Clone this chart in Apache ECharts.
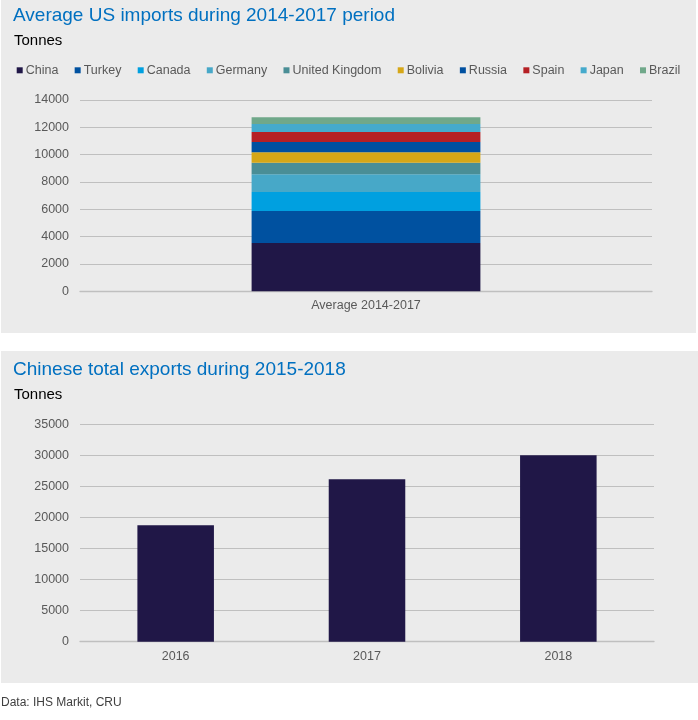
<!DOCTYPE html>
<html>
<head>
<meta charset="utf-8">
<script src="https://cdn.jsdelivr.net/npm/echarts@6/dist/echarts.min.js"></script>
<style>
html,body{margin:0;padding:0;background:#fff;}
#chart{width:698px;height:720px;}
</style>
</head>
<body>
<div id="chart"></div>
<script>
// ---- data ----
const importCategories = ['Average 2014-2017'];
const importCountries = ['China', 'Turkey', 'Canada', 'Germany', 'United Kingdom', 'Bolivia', 'Russia', 'Spain', 'Japan', 'Brazil'];
const importValues = [3530, 2340, 1390, 1300, 850, 760, 755, 730, 585, 490];
const exportYears = ['2016', '2017', '2018'];
const exportValues = [18750, 26150, 30000];

// ---- styles ----
const countryColors = ['#201747', '#0051A0', '#00A0E0', '#47A8C8', '#4A8E96', '#D6A717', '#0050A0', '#B52025', '#45AACC', '#70A88A'];
const FONT = "'Liberation Sans', Arial, sans-serif";
const gridColor = '#BFBFBF';
const labelColor = '#595959';

const chart = echarts.init(document.getElementById('chart'), null, {renderer: 'canvas'});

const importSeries = importCountries.map((name, i) => ({
  name: name,
  type: 'bar',
  stack: 'total',
  xAxisIndex: 0,
  yAxisIndex: 0,
  barWidth: '40%',
  itemStyle: {color: countryColors[i]},
  data: [importValues[i]]
}));

const plainNumber = v => String(v);

const option = {
  animation: false,
  backgroundColor: '#ffffff',
  textStyle: {fontFamily: FONT},
  graphic: [
    {type: 'rect', z: -10, shape: {x: 1, y: 0, width: 695, height: 333}, style: {fill: '#EBEBEB'}},
    {type: 'rect', z: -10, shape: {x: 1, y: 351, width: 697, height: 332}, style: {fill: '#EBEBEB'}}
  ],
  title: [
    {text: 'Average US imports during 2014-2017 period', left: 13, top: 6, padding: 0,
     textStyle: {fontFamily: FONT, fontSize: 19, fontWeight: 'normal', color: '#0070C0'}},
    {text: 'Tonnes', left: 14, top: 33.5, padding: 0,
     textStyle: {fontFamily: FONT, fontSize: 15, fontWeight: 'normal', color: '#000000'}},
    {text: 'Chinese total exports during 2015-2018', left: 13, top: 360, padding: 0,
     textStyle: {fontFamily: FONT, fontSize: 19, fontWeight: 'normal', color: '#0070C0'}},
    {text: 'Tonnes', left: 14, top: 387.5, padding: 0,
     textStyle: {fontFamily: FONT, fontSize: 15, fontWeight: 'normal', color: '#000000'}},
    {text: 'Data: IHS Markit, CRU', left: 1, top: 696.5, padding: 0,
     textStyle: {fontFamily: FONT, fontSize: 12, fontWeight: 'normal', color: '#404040'}}
  ],
  legend: {
    data: importCountries,
    left: 16.7,
    top: 63.8,
    padding: 0,
    itemWidth: 6,
    itemHeight: 6,
    itemGap: 16.3,
    icon: 'rect',
    textStyle: {fontFamily: FONT, fontSize: 12.5, color: labelColor, padding: [0, 0, 0, -2]}
  },
  grid: [
    {left: 80, top: 100, width: 572, height: 191.3, containLabel: false},
    {left: 80, top: 424.3, width: 574, height: 217.4, containLabel: false}
  ],
  xAxis: [
    {type: 'category', gridIndex: 0, data: importCategories,
     axisTick: {show: false},
     axisLine: {lineStyle: {color: gridColor, width: 1.3}},
     axisLabel: {color: labelColor, fontSize: 12.5, fontFamily: FONT, margin: 8}},
    {type: 'category', gridIndex: 1, data: exportYears,
     axisTick: {show: false},
     axisLine: {lineStyle: {color: gridColor, width: 1.3}},
     axisLabel: {color: labelColor, fontSize: 12.5, fontFamily: FONT, margin: 8.5}}
  ],
  yAxis: [
    {type: 'value', gridIndex: 0, min: 0, max: 14000, interval: 2000,
     axisLine: {show: false}, axisTick: {show: false},
     splitLine: {lineStyle: {color: gridColor, width: 1}},
     axisLabel: {color: labelColor, fontSize: 12.5, fontFamily: FONT, margin: 11, formatter: plainNumber}},
    {type: 'value', gridIndex: 1, min: 0, max: 35000, interval: 5000,
     axisLine: {show: false}, axisTick: {show: false},
     splitLine: {lineStyle: {color: gridColor, width: 1}},
     axisLabel: {color: labelColor, fontSize: 12.5, fontFamily: FONT, margin: 11, formatter: plainNumber}}
  ],
  series: importSeries.concat([
    {name: 'Chinese total exports', type: 'bar', xAxisIndex: 1, yAxisIndex: 1,
     barWidth: '40%', itemStyle: {color: '#201747'}, data: exportValues}
  ])
};

chart.setOption(option);
</script>
</body>
</html>
